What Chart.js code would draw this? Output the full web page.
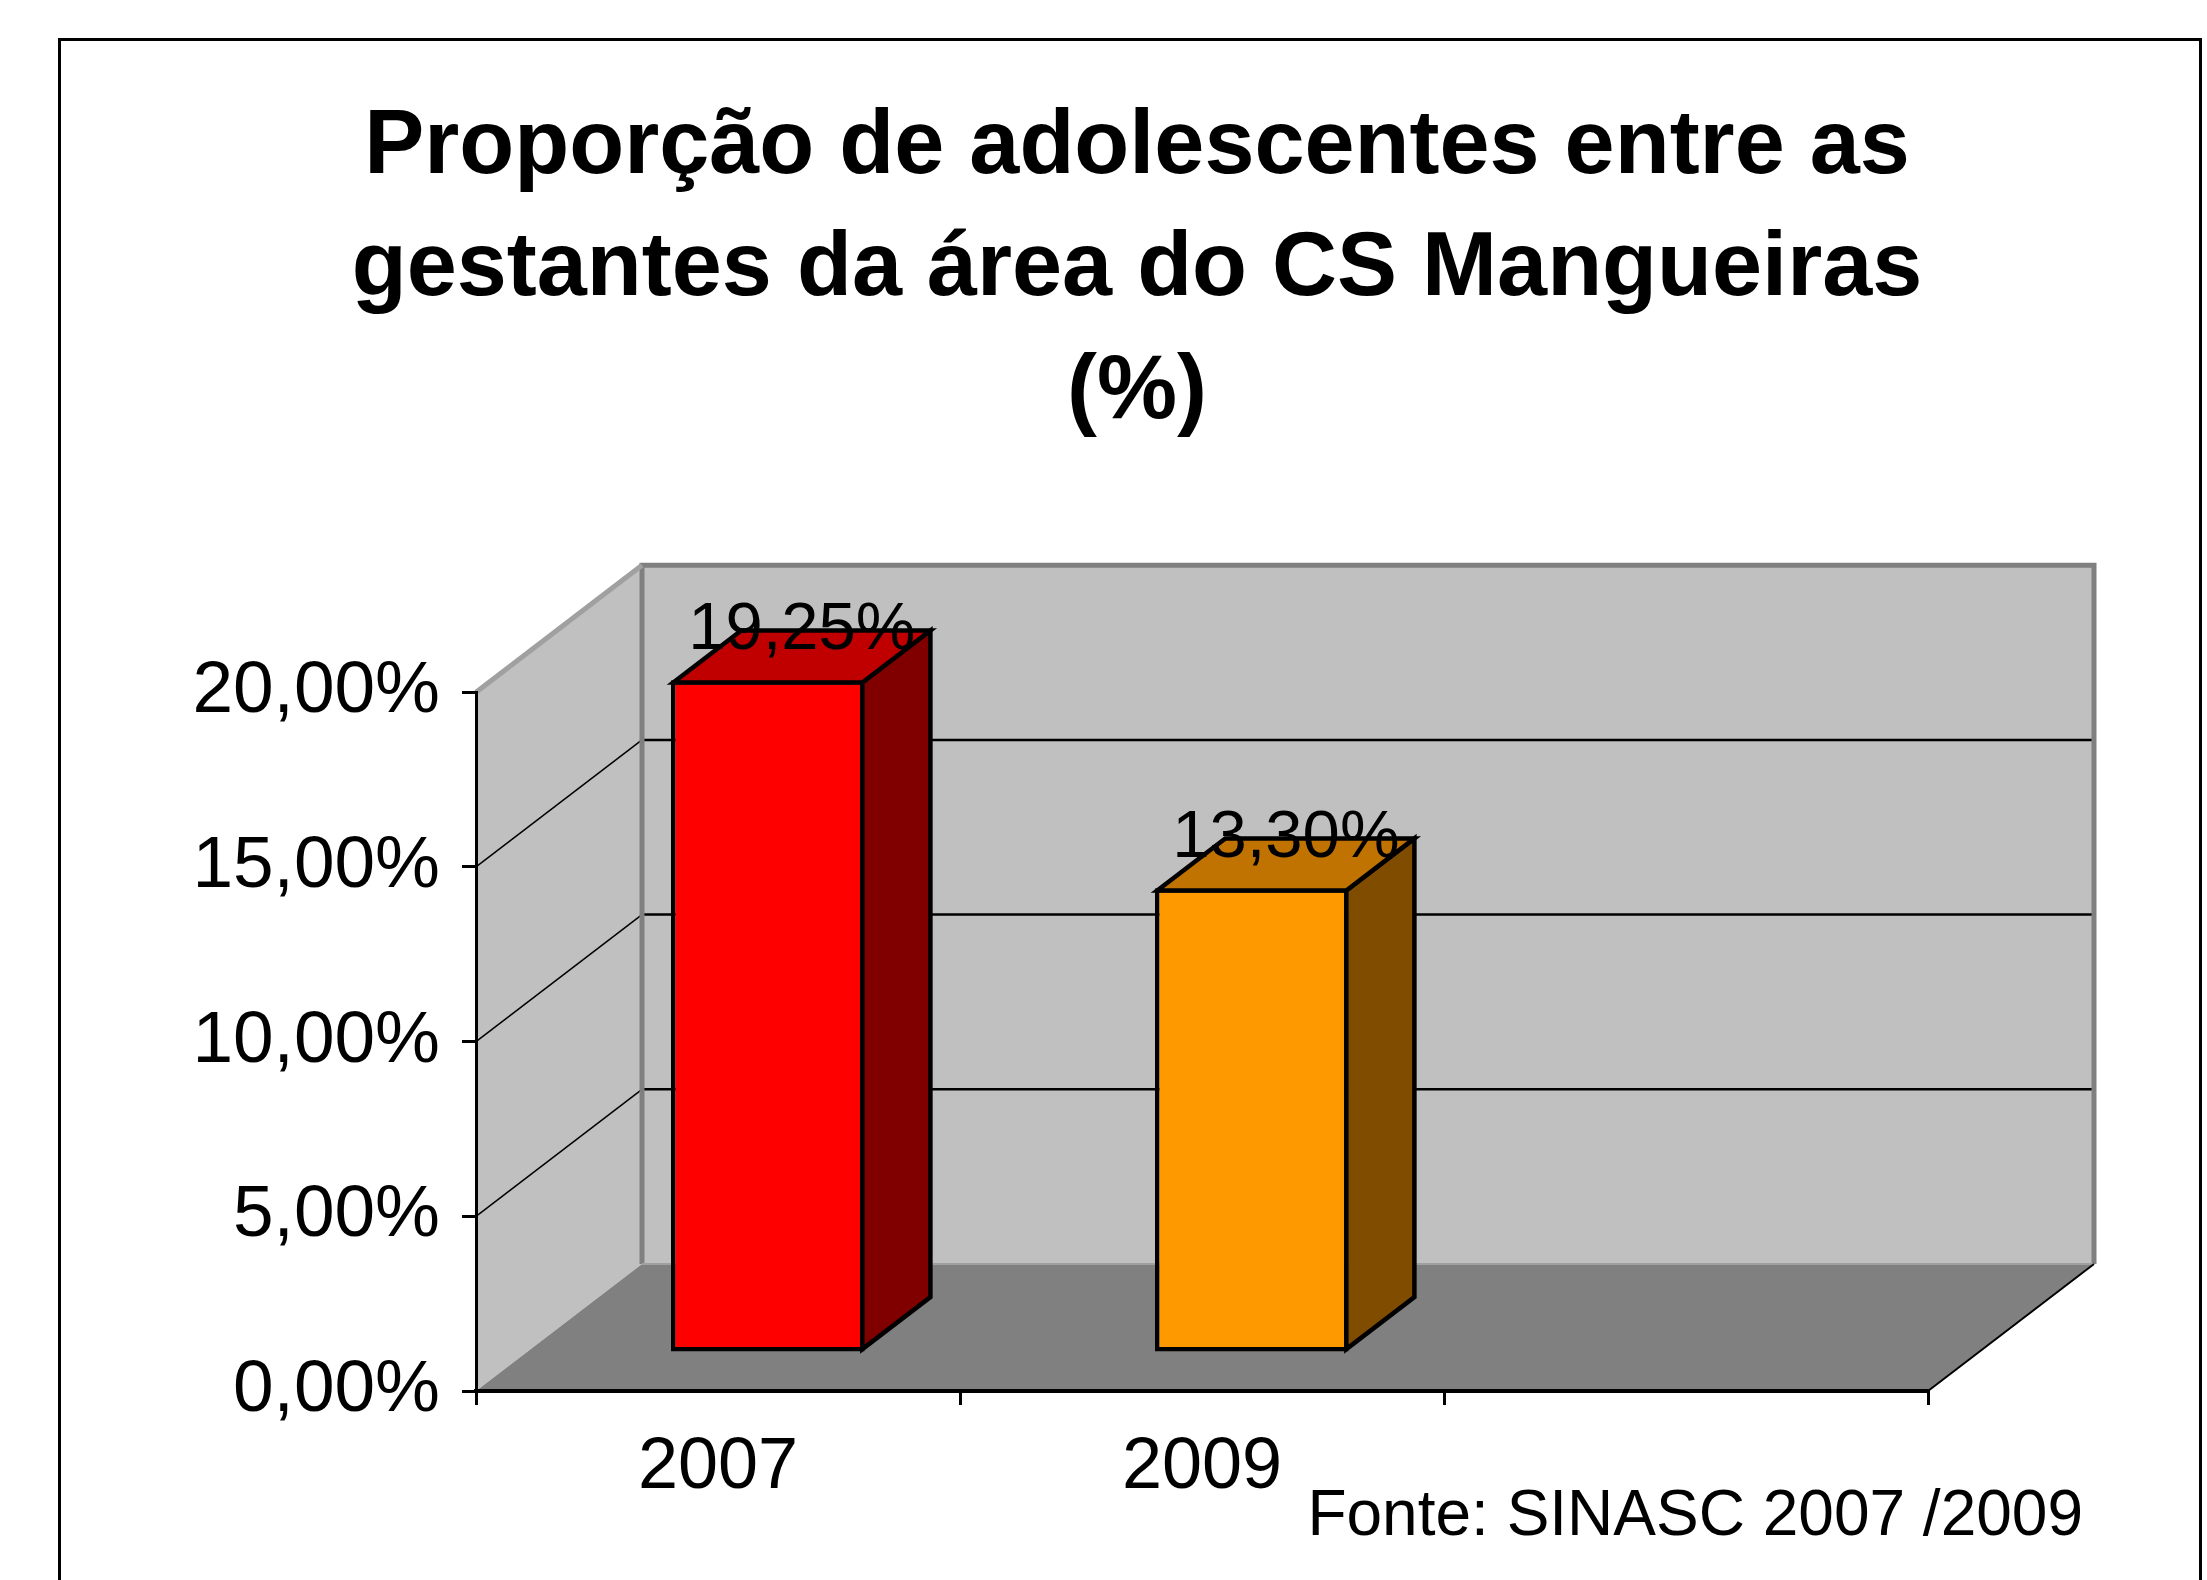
<!DOCTYPE html>
<html>
<head>
<meta charset="utf-8">
<script src="https://cdn.jsdelivr.net/npm/chart.js@4.4.1/dist/chart.umd.min.js"></script>
<style>
  html, body { margin: 0; padding: 0; background: #fff; }
  canvas { display: block; }
</style>
</head>
<body>
<canvas id="grafico" width="2207" height="1580"></canvas>
<script>
// dados
const anos = ['2007', '2009', ''];
const proporcoes = [19.25, 13.30, null];
const yTicks = [0, 5, 10, 15, 20];
const tituloLinhas = ['Proporção de adolescentes entre as', 'gestantes da área do CS Mangueiras', '(%)'];
const textoFonte = 'Fonte: SINASC 2007 /2009';

// cores das faces das barras
const corFrente = ['#FF0000', '#FF9900', '#FF0000'];
const corTopo = ['#C00000', '#C07300', '#C00000'];
const corLado = ['#800000', '#7F4C00', '#800000'];

const FONT = '"Liberation Sans", Arial, sans-serif';
const PROF = { x: 166, y: -127 };   // profundidade do 3D
const BAR_INI = 0.3;                 // posição da frente da barra na profundidade
const BAR_PROF = 0.41;               // espessura da barra na profundidade
const BORDA = 4.5;

function formatarPct(v) {
    return v.toFixed(2).replace('.', ',') + '%';
}

const efeito3d = {
    id: 'efeito3d',
    beforeDraw(chart) {
        const { ctx, chartArea: a, scales: { y } } = chart;
        const dx = PROF.x, dy = PROF.y;
        ctx.save();

        // moldura externa
        ctx.strokeStyle = '#000';
        ctx.lineWidth = 3;
        ctx.strokeRect(59.5, 39.5, 2141, 1700);

        // parede do fundo
        ctx.fillStyle = '#C0C0C0';
        ctx.fillRect(a.left + dx, a.top + dy, a.right - a.left, a.bottom - a.top);

        // parede lateral
        ctx.beginPath();
        ctx.moveTo(a.left, a.top);
        ctx.lineTo(a.left + dx, a.top + dy);
        ctx.lineTo(a.left + dx, a.bottom + dy);
        ctx.lineTo(a.left, a.bottom);
        ctx.closePath();
        ctx.fill();

        // piso
        ctx.fillStyle = '#808080';
        ctx.beginPath();
        ctx.moveTo(a.left, a.bottom);
        ctx.lineTo(a.left + dx, a.bottom + dy);
        ctx.lineTo(a.right + dx, a.bottom + dy);
        ctx.lineTo(a.right, a.bottom);
        ctx.closePath();
        ctx.fill();

        // linhas de grade
        yTicks.slice(1, -1).forEach(v => {
            const py = y.getPixelForValue(v);
            ctx.strokeStyle = '#000';
            ctx.lineWidth = 2.5;
            ctx.beginPath();
            ctx.moveTo(a.left + dx, py + dy);
            ctx.lineTo(a.right + dx, py + dy);
            ctx.stroke();
            ctx.lineWidth = 1.5;
            ctx.beginPath();
            ctx.moveTo(a.left, py);
            ctx.lineTo(a.left + dx, py + dy);
            ctx.stroke();
        });

        // bordas cinzas das paredes
        ctx.strokeStyle = '#808080';
        ctx.lineWidth = 5;
        ctx.beginPath();
        ctx.moveTo(a.left + dx, a.bottom + dy);
        ctx.lineTo(a.left + dx, a.top + dy);
        ctx.lineTo(a.right + dx, a.top + dy);
        ctx.lineTo(a.right + dx, a.bottom + dy);
        ctx.stroke();
        ctx.strokeStyle = '#A0A0A0';
        ctx.beginPath();
        ctx.moveTo(a.left, a.top);
        ctx.lineTo(a.left + dx, a.top + dy);
        ctx.stroke();
        ctx.lineWidth = 2;
        ctx.beginPath();
        ctx.moveTo(a.left + dx, a.bottom + dy);
        ctx.lineTo(a.right + dx, a.bottom + dy);
        ctx.stroke();

        // borda direita do piso
        ctx.strokeStyle = '#000';
        ctx.lineWidth = 2;
        ctx.beginPath();
        ctx.moveTo(a.right, a.bottom);
        ctx.lineTo(a.right + dx, a.bottom + dy);
        ctx.stroke();

        // fonte
        ctx.fillStyle = '#000';
        ctx.font = '64px ' + FONT;
        ctx.textAlign = 'right';
        ctx.textBaseline = 'middle';
        ctx.fillText(textoFonte, 2083, 1517);
        ctx.restore();
    },
    beforeDatasetsDraw(chart) {
        chart.ctx.save();
        chart.ctx.translate(PROF.x * BAR_INI, PROF.y * BAR_INI);
    },
    afterDatasetsDraw(chart) {
        const ctx = chart.ctx;
        ctx.restore();
        const meta = chart.getDatasetMeta(0);
        const bx = PROF.x * BAR_PROF, by = PROF.y * BAR_PROF;
        const h = BORDA / 2;
        ctx.save();
        ctx.translate(PROF.x * BAR_INI, PROF.y * BAR_INI);
        ctx.strokeStyle = '#000';
        ctx.lineWidth = BORDA;
        ctx.lineJoin = 'miter';
        meta.data.forEach((bar, i) => {
            if (proporcoes[i] == null) return;
            const { x, y, base, width } = bar.getProps(['x', 'y', 'base', 'width'], true);
            const l = x - width / 2 + h, r = x + width / 2 - h;
            const t = y + h, b = base - h;

            // lado
            ctx.fillStyle = corLado[i];
            ctx.beginPath();
            ctx.moveTo(r, t);
            ctx.lineTo(r + bx, t + by);
            ctx.lineTo(r + bx, b + by);
            ctx.lineTo(r, b);
            ctx.closePath();
            ctx.fill();
            ctx.stroke();

            // topo
            ctx.fillStyle = corTopo[i];
            ctx.beginPath();
            ctx.moveTo(l, t);
            ctx.lineTo(l + bx, t + by);
            ctx.lineTo(r + bx, t + by);
            ctx.lineTo(r, t);
            ctx.closePath();
            ctx.fill();
            ctx.stroke();

            // rótulo
            ctx.fillStyle = '#000';
            ctx.font = '67px ' + FONT;
            ctx.textAlign = 'center';
            ctx.textBaseline = 'middle';
            ctx.fillText(formatarPct(proporcoes[i]), x + bx / 2, t + by / 2 - 26);
        });
        ctx.restore();
    }
};

new Chart(document.getElementById('grafico'), {
    type: 'bar',
    data: {
        labels: anos,
        datasets: [{
            data: proporcoes,
            backgroundColor: corFrente,
            borderColor: '#000',
            borderWidth: BORDA,
            borderSkipped: false,
            categoryPercentage: 1,
            barPercentage: 0.4,
            yAxisID: 'y'
        }]
    },
    options: {
        responsive: false,
        animation: false,
        devicePixelRatio: 1,
        layout: {
            padding: { left: 150, right: 83, top: 0, bottom: 0 }
        },
        scales: {
            y: {
                position: 'left',
                min: 0,
                max: 20,
                afterFit: function (scale) { scale.width = 326; },
                afterBuildTicks: function (scale) {
                    scale.ticks = yTicks.map(v => ({ value: v }));
                },
                grid: {
                    display: true,
                    drawOnChartArea: false,
                    drawTicks: true,
                    tickLength: 14,
                    color: '#000',
                    lineWidth: 3
                },
                border: { display: true, color: '#000', width: 3 },
                ticks: {
                    padding: 22,
                    color: '#000',
                    font: { family: FONT, size: 73 },
                    callback: function (value) {
                        return formatarPct(value);
                    }
                }
            },
            // eixo vazio só para reservar o espaço à direita
            espaco: {
                type: 'linear',
                position: 'right',
                display: true,
                afterFit: function (scale) { scale.width = 196; },
                grid: { display: false },
                border: { display: false },
                ticks: { display: false }
            },
            x: {
                afterFit: function (scale) { scale.height = 189; },
                grid: {
                    display: true,
                    drawOnChartArea: false,
                    drawTicks: true,
                    tickLength: 14,
                    color: '#000',
                    lineWidth: 3
                },
                border: { display: true, color: '#000', width: 4 },
                ticks: {
                    padding: 20,
                    color: '#000',
                    maxRotation: 0,
                    font: { family: FONT, size: 72 }
                }
            }
        },
        plugins: {
            legend: { display: false },
            tooltip: { enabled: false },
            title: {
                display: true,
                text: tituloLinhas,
                color: '#000',
                font: { family: FONT, size: 90, weight: 'bold', lineHeight: 1.36 },
                padding: { top: 87, bottom: 238 }
            }
        }
    },
    plugins: [efeito3d]
});
</script>
</body>
</html>
